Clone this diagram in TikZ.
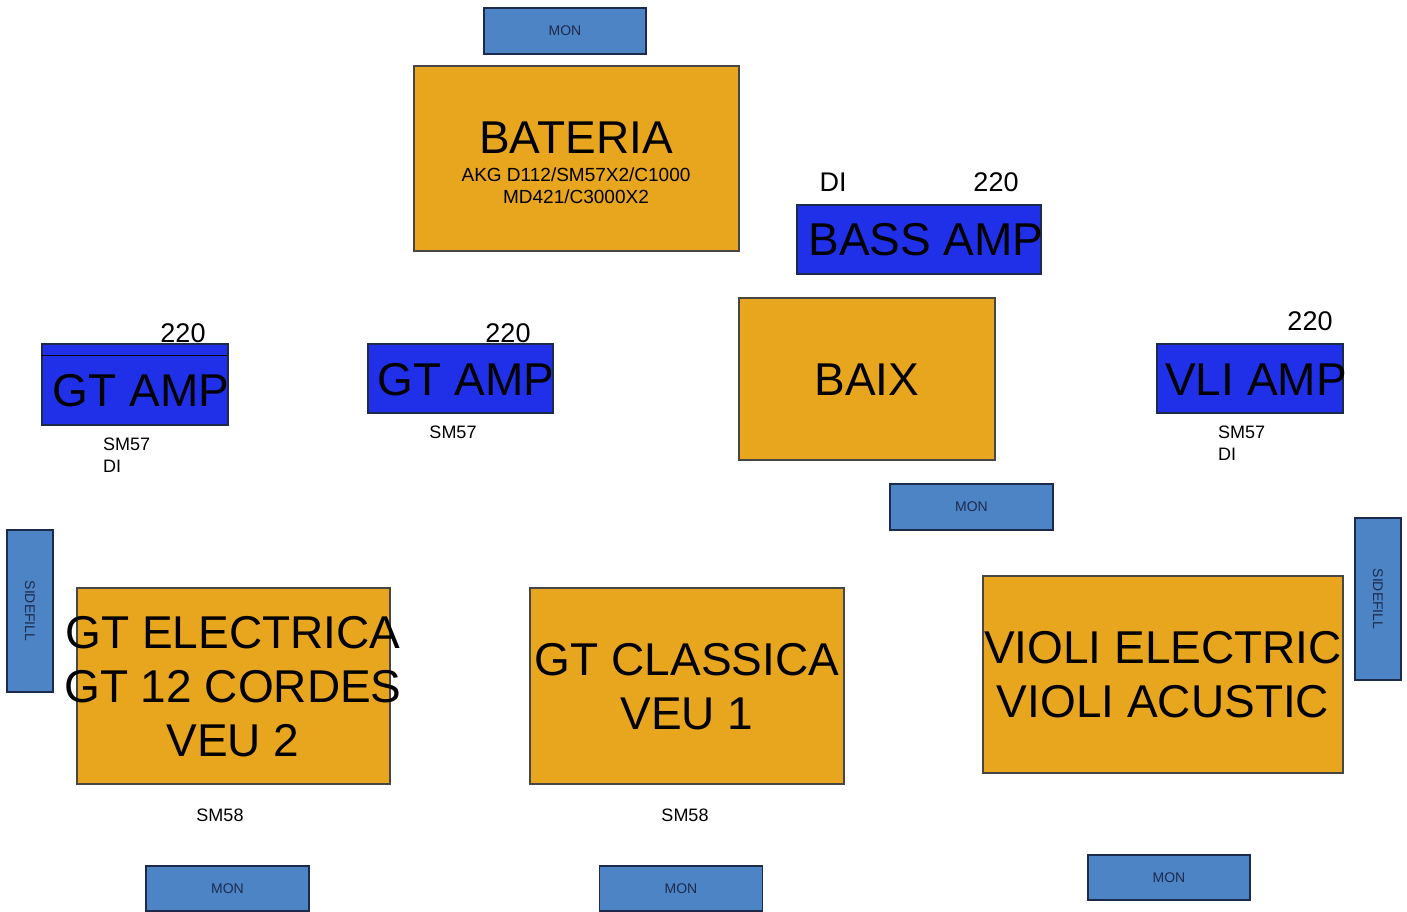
\documentclass[tikz,border=0pt]{standalone}
\usepackage{fontspec}
\setmainfont{Liberation Sans}
\definecolor{stageorange}{RGB}{232,165,30}
\definecolor{ampblue}{RGB}{32,48,232}
\definecolor{monblue}{RGB}{76,132,198}
\definecolor{monline}{RGB}{30,42,75}
\definecolor{boxline}{RGB}{70,70,70}
\tikzset{
  stagebox/.style={draw=boxline, line width=1.2pt, fill=stageorange, inner sep=0pt},
  ampbox/.style={draw=monline, line width=1.2pt, fill=ampblue, inner sep=0pt},
  monbox/.style={draw=monline, line width=1.2pt, fill=monblue, inner sep=0pt,
    font=\fontsize{14}{16}\selectfont, text=monline},
  montext/.style={inner sep=0pt, font=\fontsize{14}{16}\selectfont, text=monline},
  bigtext/.style={inner sep=0pt, align=center, font=\fontsize{46}{54}\selectfont},
  smalltext/.style={inner sep=0pt, align=left, font=\fontsize{18}{22}\selectfont},
  volttext/.style={inner sep=0pt, font=\fontsize{27}{30}\selectfont}
}
\begin{document}
\begin{tikzpicture}[x=1pt,y=-1pt]
\useasboundingbox (0,0) rectangle (1407,911);
% monitors
\node[monbox, minimum width=162pt, minimum height=46pt] (montop) at (565,31) {MON};
\node[monbox, minimum width=163pt, minimum height=46pt] (monbaix) at (971.5,507) {MON};
\node[monbox, minimum width=163pt, minimum height=45pt] (monelec) at (227.5,888.5) {MON};
\node[monbox, minimum width=163pt, minimum height=45pt] (monclas) at (681,888.5) {MON};
\node[monbox, minimum width=162pt, minimum height=45pt] (monvioli) at (1169,877.5) {MON};
\node[monbox, minimum width=46pt, minimum height=162pt] (sideleft) at (30,611) {};
\node[montext, rotate=-90] at (sideleft) {SIDEFILL};
\node[monbox, minimum width=46pt, minimum height=162pt] (sideright) at (1378,599) {};
\node[montext, rotate=-90] at (sideright) {SIDEFILL};
% drums
\node[stagebox, minimum width=325pt, minimum height=185pt] (bateria) at (576.5,158.5) {};
\node[bigtext] (bateriatxt) at (576,138) {BATERIA};
\node[inner sep=0pt, align=center, font=\fontsize{19}{22}\selectfont] (bateriamics) at (576,186) {AKG D112/SM57X2/C1000\\MD421/C3000X2};
% bass
\node[ampbox, minimum width=244pt, minimum height=69pt] (bassamp) at (919,239.5) {};
\node[bigtext] at (926,240) {BASS AMP};
\node[volttext] (bassdi) at (833,182) {DI};
\node[volttext] (bass220) at (996,182) {220};
\node[stagebox, minimum width=256pt, minimum height=162pt] (baix) at (867,379) {};
\node[bigtext] at (867,380) {BAIX};
% guitar amps
\node[ampbox, minimum width=186pt, minimum height=81pt] (gtampleft) at (135,384.5) {};
\draw[black, line width=1.5pt] (gtampleft.north west) ++(0,12) -- ++(186,0);
\node[bigtext] at (141,391) {GT AMP};
\node[volttext] (gtleft220) at (183,333) {220};
\node[smalltext, anchor=west] (gtleftmics) at (103,455) {SM57\\DI};
\node[ampbox, minimum width=185pt, minimum height=69pt] (gtampmid) at (460.5,378.5) {};
\node[bigtext] at (466,380) {GT AMP};
\node[volttext] (gtmid220) at (508,333) {220};
\node[smalltext] (gtmidmic) at (453,432) {SM57};
% violin amp
\node[ampbox, minimum width=186pt, minimum height=69pt] (vliamp) at (1250,378.5) {};
\node[bigtext] at (1256,380) {VLI AMP};
\node[volttext] (vli220) at (1310,321) {220};
\node[smalltext, anchor=west] (vlimics) at (1218,443) {SM57\\DI};
% front line
\node[stagebox, minimum width=313pt, minimum height=196pt] (elec) at (233.5,686) {};
\node[bigtext] at (233,687) {GT ELECTRICA\\GT 12 CORDES\\VEU 2};
\node[smalltext] (elecmic) at (220,815) {SM58};
\node[stagebox, minimum width=314pt, minimum height=196pt] (clas) at (687,686) {};
\node[bigtext] at (687,687) {GT CLASSICA\\VEU 1};
\node[smalltext] (clasmic) at (685,815) {SM58};
\node[stagebox, minimum width=360pt, minimum height=197pt] (violi) at (1163,674.5) {};
\node[bigtext] at (1163,675) {VIOLI ELECTRIC\\VIOLI ACUSTIC};
\end{tikzpicture}
\end{document}
